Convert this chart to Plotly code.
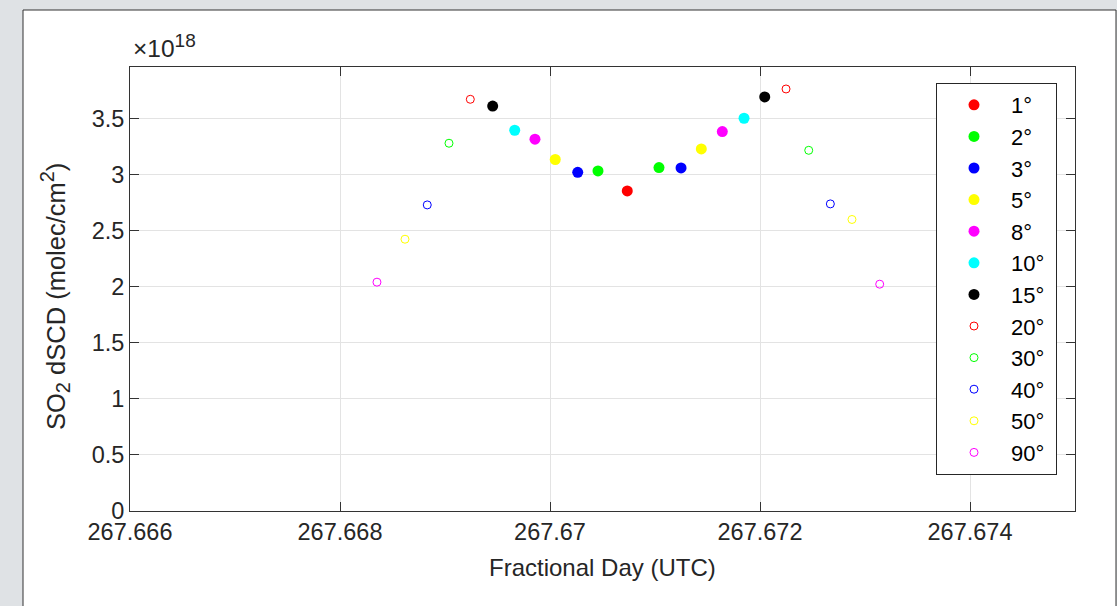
import plotly.graph_objects as go

# ---------------- data (y in units of 1e18 molec/cm^2) ----------------
angles = ["1°", "2°", "3°", "5°", "8°", "10°", "15°", "20°", "30°", "40°", "50°", "90°"]
colors = ["#ff0000", "#00ff00", "#0000ff", "#ffff00", "#ff00ff", "#00ffff", "#000000",
          "#ff0000", "#00ff00", "#0000ff", "#ffff00", "#ff00ff"]
filled = [True, True, True, True, True, True, True, False, False, False, False, False]

x_1 = [267.670736]
y_1 = [2.855]
x_2 = [267.670457, 267.671038]
y_2 = [3.033, 3.063]
x_3 = [267.670264, 267.671248]
y_3 = [3.021, 3.060]
x_5 = [267.670050, 267.671441]
y_5 = [3.135, 3.229]
x_8 = [267.669857, 267.671641]
y_8 = [3.316, 3.384]
x_10 = [267.669664, 267.671848]
y_10 = [3.396, 3.503]
x_15 = [267.669454, 267.672045]
y_15 = [3.612, 3.693]
x_20 = [267.669241, 267.672248]
y_20 = [3.672, 3.764]
x_30 = [267.669038, 267.672464]
y_30 = [3.280, 3.217]
x_40 = [267.668831, 267.672670]
y_40 = [2.730, 2.739]
x_50 = [267.668619, 267.672876]
y_50 = [2.424, 2.600]
x_90 = [267.668352, 267.673140]
y_90 = [2.041, 2.023]

xs = [x_1, x_2, x_3, x_5, x_8, x_10, x_15, x_20, x_30, x_40, x_50, x_90]
ys = [y_1, y_2, y_3, y_5, y_8, y_10, y_15, y_20, y_30, y_40, y_50, y_90]

x_tickvals = [267.666, 267.668, 267.670, 267.672, 267.674]
x_ticktext = ["267.666", "267.668", "267.67", "267.672", "267.674"]
y_tickvals = [0, 0.5, 1, 1.5, 2, 2.5, 3, 3.5]
y_ticktext = ["0", "0.5", "1", "1.5", "2", "2.5", "3", "3.5"]

FONT = "Liberation Sans, Arial, Helvetica, sans-serif"
TXT = "#262626"

fig = go.Figure()
for name, c, f, x, y in zip(angles, colors, filled, xs, ys):
    if f:
        marker = dict(symbol="circle", size=11, color=c, line=dict(width=0))
    else:
        marker = dict(symbol="circle-open", size=8, color=c, line=dict(width=1, color=c))
    fig.add_trace(go.Scatter(x=x, y=y, mode="markers", name=name + "\u00a0",
                             marker=marker))

W, H = 1117, 606
L, R, T, B = 130, 42, 67, 95
pw, ph = W - L - R, H - T - B


def px2paper_x(px):
    return (px - L) / pw


def px2paper_y(py):
    return (H - B - py) / ph


axis_common = dict(
    showline=True, linecolor="#333333", linewidth=1, mirror="ticks",
    ticks="inside", ticklen=9, tickwidth=1, tickcolor="#333333",
    showgrid=True, gridcolor="#e3e3e3", gridwidth=1, zeroline=False,
    tickfont=dict(family=FONT, size=23.5, color=TXT),
)

fig.update_layout(
    width=W, height=H,
    margin=dict(l=L, r=R, t=T, b=B),
    paper_bgcolor="#dfe2e5",
    plot_bgcolor="#ffffff",
    font=dict(family=FONT, color=TXT),
    xaxis=dict(range=[267.666, 267.675], tickvals=x_tickvals, ticktext=x_ticktext, **axis_common),
    yaxis=dict(range=[0, 3.96], tickvals=y_tickvals, ticktext=y_ticktext, **axis_common),
    legend=dict(
        x=px2paper_x(936), y=px2paper_y(83), xanchor="left", yanchor="top",
        bgcolor="#ffffff", bordercolor="#262626", borderwidth=1,
        font=dict(family=FONT, size=22, color="#000000"),
        itemwidth=64,
    ),
    shapes=[dict(
        type="rect", xref="paper", yref="paper", layer="below",
        x0=px2paper_x(23), x1=px2paper_x(1116), y0=px2paper_y(10), y1=px2paper_y(640),
        fillcolor="#ffffff", line=dict(color="#333333", width=1),
    )],
    annotations=[
        dict(text="×10<sup><span style='font-size:19px'>18</span></sup>", x=px2paper_x(131), y=1,
             xref="paper", yref="paper",
             xanchor="left", yanchor="bottom", yshift=3, showarrow=False,
             font=dict(family=FONT, size=24.5, color=TXT)),
        dict(text="SO<sub><span style='font-size:20px'>2</span></sub> dSCD (molec/cm"
                  "<sup><span style='font-size:20px'>2</span></sup>)",
             x=px2paper_x(55), y=px2paper_y(297),
             xref="paper", yref="paper", xanchor="center", yanchor="middle",
             textangle=-90, showarrow=False, font=dict(family=FONT, size=25.5, color=TXT)),
        dict(text="Fractional Day (UTC)", x=0.5, y=px2paper_y(567), xref="paper", yref="paper",
             xanchor="center", yanchor="middle", showarrow=False,
             font=dict(family=FONT, size=24, color=TXT)),
    ],
)

fig.write_html("out.html")
